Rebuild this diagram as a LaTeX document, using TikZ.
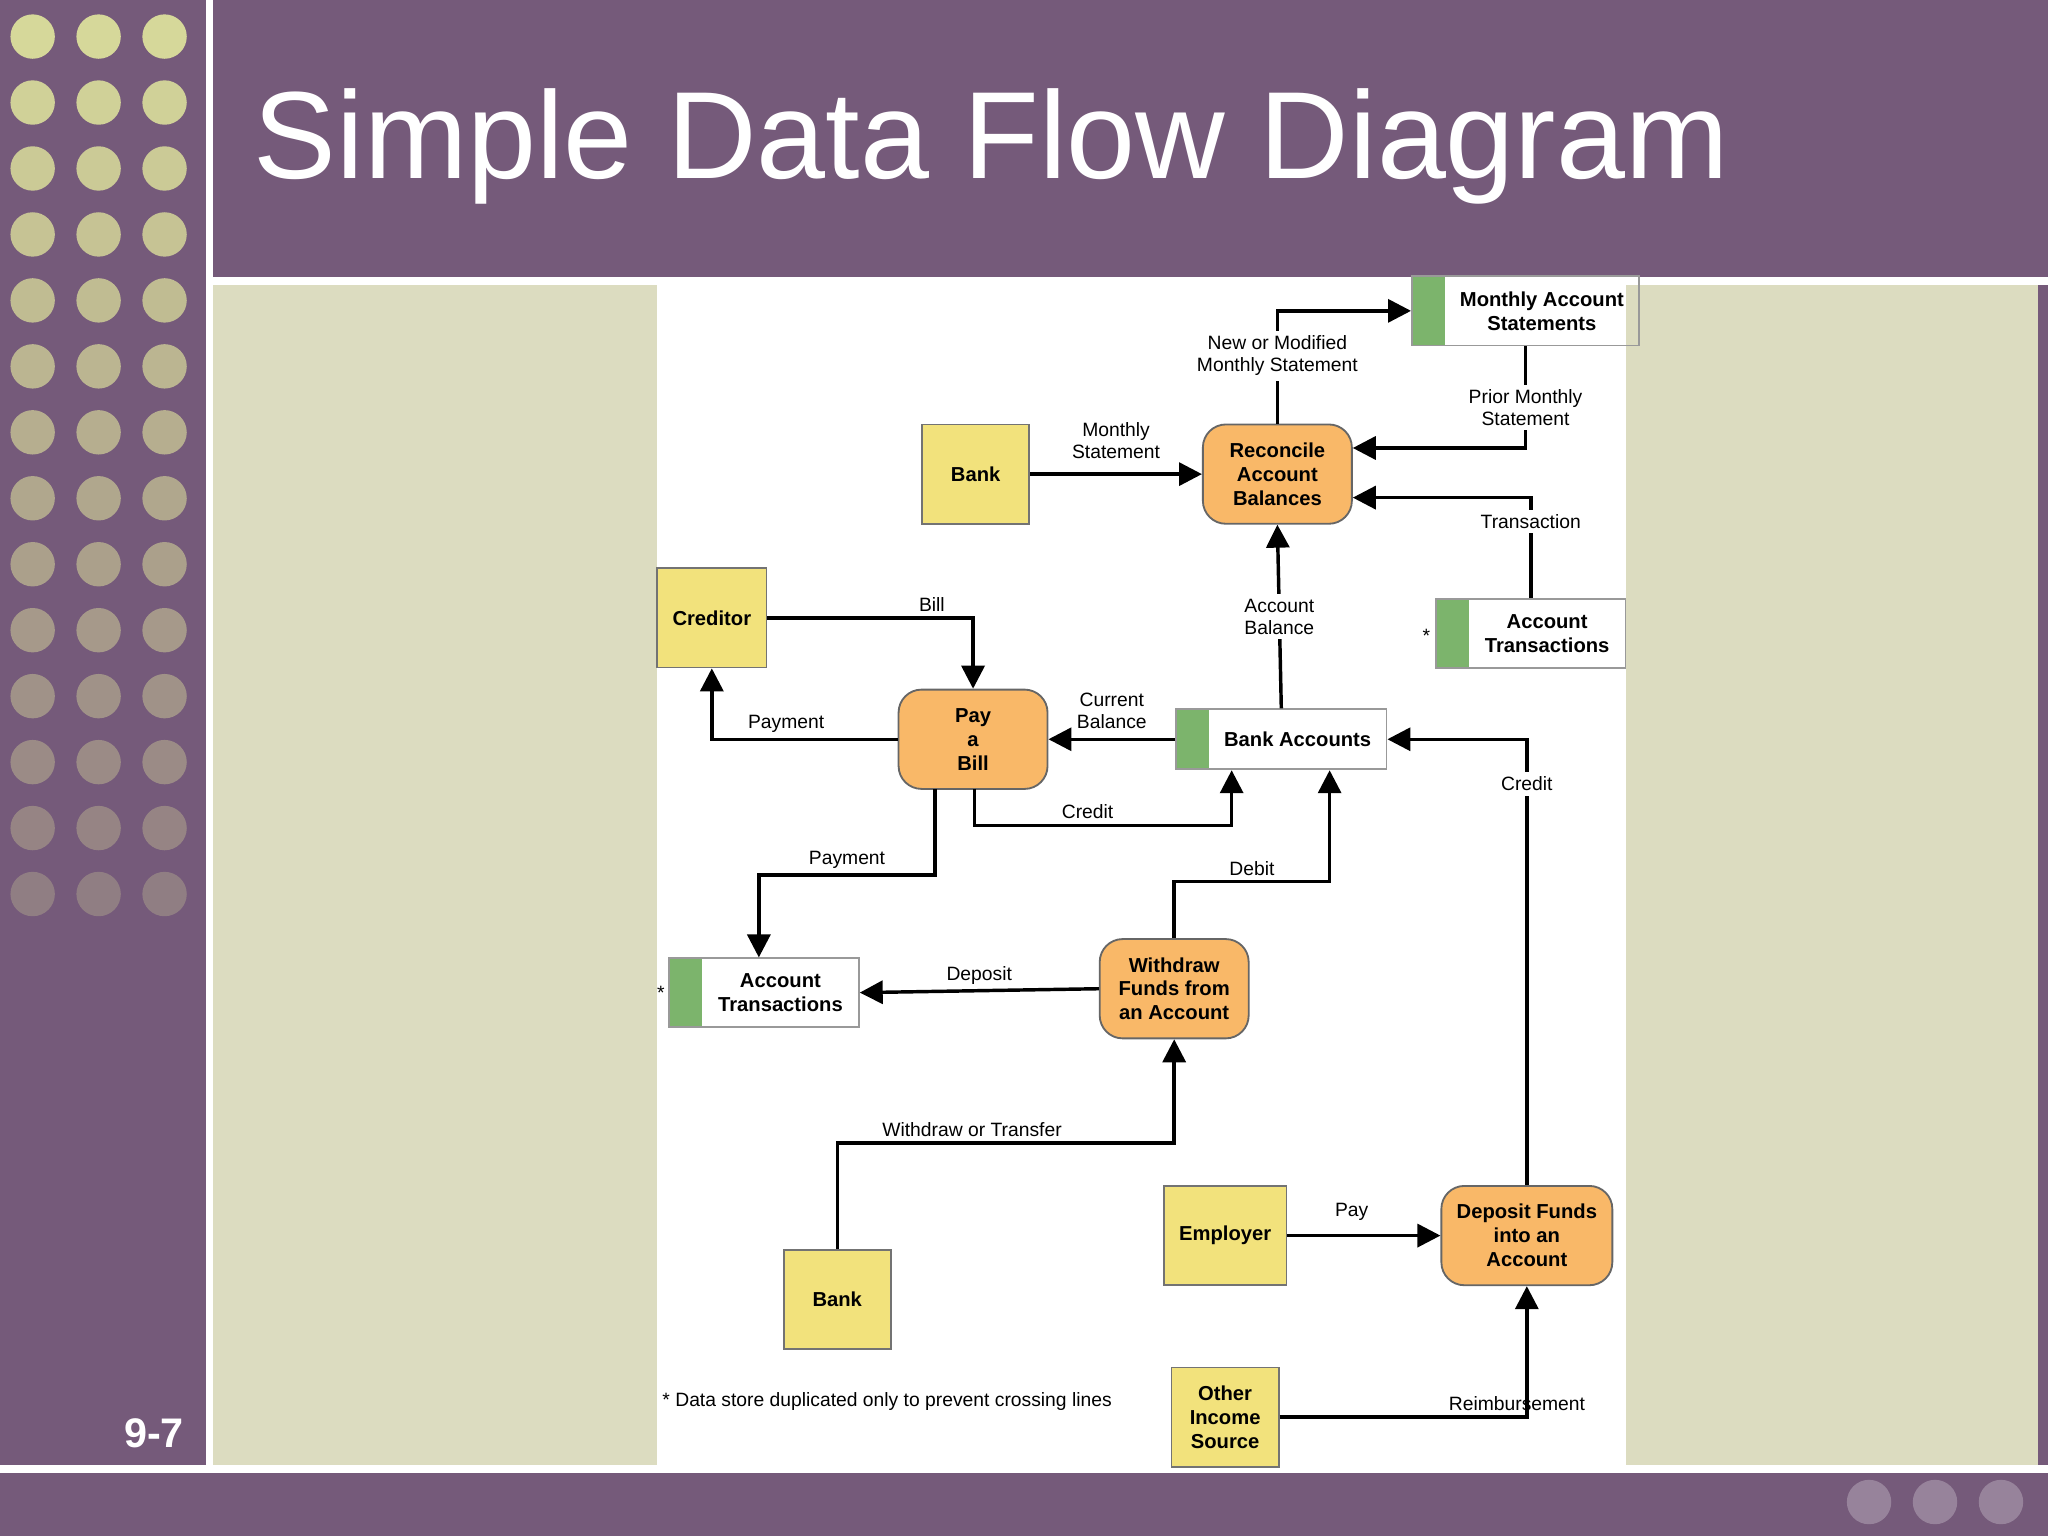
\documentclass[tikz,border=0pt]{standalone}
\usepackage{fontspec}
\setmainfont{Liberation Sans}
\usetikzlibrary{arrows.meta}
\definecolor{slidepurple}{HTML}{755A7A}
\definecolor{slidesage}{HTML}{DCDCC0}
\definecolor{dotyellow}{HTML}{D6D89A}
\definecolor{procorange}{HTML}{F9B868}
\definecolor{entyellow}{HTML}{F2E27C}
\definecolor{storegreen}{HTML}{7CB46C}
\tikzset{
  flow/.style={line width=0.75pt,-{Triangle[length=5pt,width=5pt]}},
  lbl/.style={font=\fontsize{4.2}{4.8}\selectfont,align=center,inner sep=1pt},
  entity/.style={draw=black!55,fill=entyellow,minimum width=0.82cm,minimum height=0.76cm,font=\fontsize{4.4}{5.2}\selectfont\bfseries,align=center},
  process/.style={draw=black!60,fill=procorange,rounded corners=5pt,minimum width=1.14cm,minimum height=0.76cm,font=\fontsize{4.4}{5.2}\selectfont\bfseries,align=center},
  store/.style={draw=black!40,minimum height=0.46cm,font=\fontsize{4.4}{5.2}\selectfont\bfseries,align=center,
    path picture={\fill[storegreen] (path picture bounding box.south west) rectangle ([xshift=0.25cm]path picture bounding box.north west);}},
}
\begin{document}
\begin{tikzpicture}[x=0.01cm,y=-0.01cm]
\useasboundingbox (0,0) rectangle (1568,1176);
% slide background
\fill[slidepurple] (0,0) rectangle (1568,1176);
\fill[white] (158,0) rectangle (163,1128);
\fill[white] (163,212) rectangle (1568,218);
\fill[slidesage] (163,218) rectangle (1560,1122);
\fill[white] (503,218) rectangle (1245,1122);
\fill[white] (0,1122) rectangle (1568,1128);
\foreach \r in {0,...,13}{
  \foreach \c in {0,1,2}{
    \pgfmathsetmacro{\op}{1-\r*0.055}
    \fill[dotyellow,opacity=\op] (25+\c*50.5,28+\r*50.5) circle (17);
  }}
\foreach \c in {0,1,2}
  \fill[white,opacity=0.25] (1431+\c*50.5,1150) circle (17);
\node[white,font=\fontsize{27}{30}\selectfont,anchor=west] (title) at (182,112) {Simple Data Flow Diagram};
\node[white,font=\fontsize{9}{10}\selectfont\bfseries] (pgno) at (118,1097) {9-7};

% external entities
\node[entity] (bankA) at (747,363) {Bank};
\node[entity] (creditor) at (545,473) {Creditor};
\node[entity] (bankB) at (641,995) {Bank};
\node[entity] (employer) at (938,946) {Employer};
\node[entity] (other) at (938,1085) {Other\\Income\\Source};
% processes
\node[process] (reconcile) at (978,363) {Reconcile\\Account\\Balances};
\node[process] (pay) at (745,566) {Pay\\a\\Bill};
\node[process] (withdraw) at (899,757) {Withdraw\\Funds from\\an Account};
\node[process] (deposit) at (1169,946) {Deposit Funds\\into an\\Account};
% data stores
\node[store,minimum width=1.53cm] (stmts) at (1168,238) {\hspace{0.25cm}Monthly Account\\\hspace{0.25cm}Statements};
\node[store,minimum width=1.45cm] (transA) at (1172,485) {\hspace{0.25cm}Account\\\hspace{0.25cm}Transactions};
\node[store,minimum width=1.52cm] (accounts) at (981,566) {\hspace{0.25cm}Bank Accounts};
\node[store,minimum width=1.45cm] (transB) at (585,760) {\hspace{0.25cm}Account\\\hspace{0.25cm}Transactions};
\node[lbl] (starA) at (1092,487) {*};
\node[lbl] (starB) at (506,760) {*};
\node[lbl,anchor=west] (note) at (503,1073) {* Data store duplicated only to prevent crossing lines};

% flows
\draw[flow] (reconcile.north) |- (stmts.west) node[lbl,pos=0.3,fill=white] {New or Modified\\Monthly Statement};
\draw[flow] (stmts.south) |- (reconcile.east |- 0,343) node[lbl,pos=0.3,fill=white] {Prior Monthly\\Statement};
\draw[flow] (bankA) -- (reconcile) node[lbl,midway,above=2pt] {Monthly\\Statement};
\draw[flow] (transA.north) |- (reconcile.east |- 0,381) node[lbl,pos=0.38,fill=white] {Transaction};
\draw[flow] (accounts.north) -- (reconcile.south) node[lbl,midway,fill=white] {Account\\Balance};
\draw[flow] (creditor.east) -| (pay.north) node[lbl,pos=0.4,above] {Bill};
\draw[flow] (pay.west) -| (creditor.south) node[lbl,pos=0.3,above] {Payment};
\draw[flow] (accounts.west) -- (pay.east) node[lbl,midway,above=1pt] {Current\\Balance};
\coordinate (payS) at (746,604);
\coordinate (creditC) at (943,632);
\draw[flow] (payS) |- (creditC) node[lbl,pos=0.72,above] {Credit} -- (accounts.south -| creditC);
\coordinate (payS2) at (716,604);
\coordinate (payBend) at (581,670);
\draw[flow] (payS2) |- (payBend) node[lbl,pos=0.75,above] {Payment} -- (transB.north -| payBend);
\coordinate (debitC) at (1018,675);
\draw[flow] (withdraw.north) |- (debitC) node[lbl,pos=0.75,above] {Debit} -- (accounts.south -| debitC);
\draw[flow] (withdraw.west) -- (transB.east) node[lbl,midway,above] {Deposit};
\draw[flow] (bankB.north) |- (withdraw.south |- 0,875) node[lbl,pos=0.7,above] {Withdraw or Transfer} -- (withdraw.south);
\draw[flow] (employer) -- (deposit) node[lbl,pos=0.42,above=2pt] {Pay};
\draw[flow] (other.east) -| (deposit.south) node[lbl,pos=0.48,above] {Reimbursement};
\draw[flow] (deposit.north) |- (accounts.east) node[lbl,pos=0.45,fill=white] {Credit};
\end{tikzpicture}
\end{document}
